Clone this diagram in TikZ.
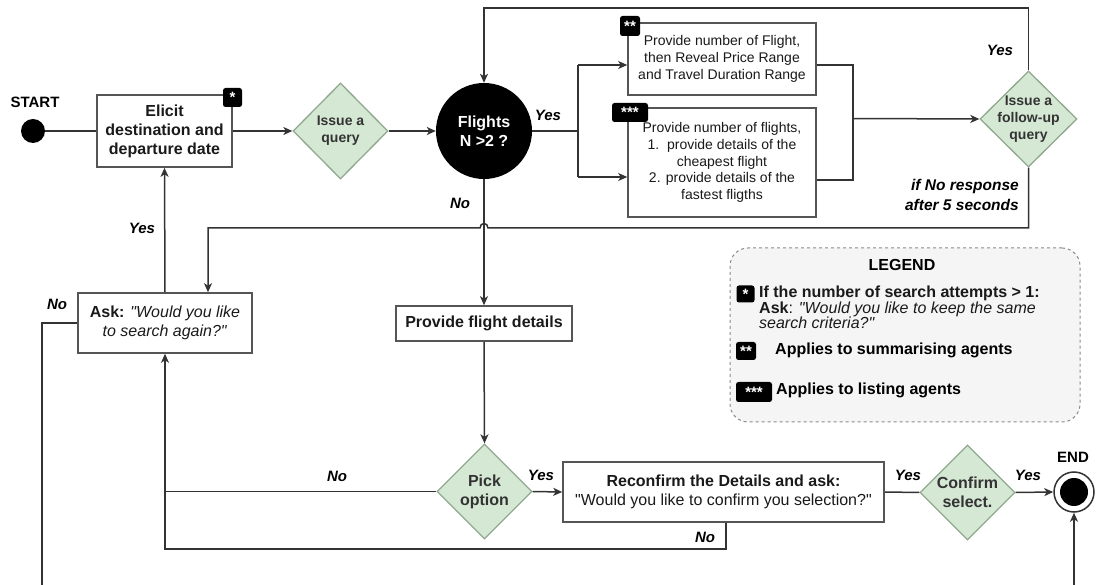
\documentclass[tikz,border=0pt]{standalone}
\usepackage{fontspec}
\setmainfont{Liberation Sans}[Ligatures=TeXOff]
\usetikzlibrary{shapes.geometric,arrows.meta}

\definecolor{linec}{HTML}{333333}
\definecolor{boxc}{HTML}{555555}
\definecolor{txt}{HTML}{1A1A1A}
\definecolor{diaf}{HTML}{D5E8D4}
\definecolor{diac}{HTML}{8FA88E}
\definecolor{diat}{HTML}{333333}
\definecolor{legf}{HTML}{F5F5F5}
\definecolor{legc}{HTML}{8A8A8A}

\newcommand{\fsbig}{\fontsize{16}{19}\selectfont}
\newcommand{\fssmall}{\fontsize{14}{16.8}\selectfont}

\tikzset{
  conn/.style={draw=linec, line width=1.5pt},
  arr/.style={conn, -{Stealth[length=9pt,width=8pt,inset=2.5pt]}},
  box/.style={rectangle, draw=boxc, line width=1.6pt, fill=white, inner sep=2pt,
              align=center, text=txt},
  dia/.style={diamond, draw=diac, fill=diaf, line width=1.3pt, inner sep=0pt},
  dtext/.style={align=center, text=diat, inner sep=0pt},
  badge/.style={rectangle, fill=black, rounded corners=2.5pt, inner sep=0pt,
                text=white, font=\fontsize{15}{15}\selectfont\bfseries},
  lbl/.style={font=\fontsize{15}{18}\selectfont\bfseries\itshape, inner sep=0pt, text=black},
}

\begin{document}
\begin{tikzpicture}[x=1pt,y=-1pt]
\useasboundingbox (0,0) rectangle (1096,585);

% ---- start and first request ----
\node[circle, fill=black, minimum size=24pt, inner sep=0pt] (start) at (33,131) {};
\node[font=\fontsize{15}{18}\selectfont\bfseries, inner sep=0pt] (startlbl) at (35,102) {START};

\node[box, minimum width=135pt, minimum height=72pt, font=\fsbig\bfseries] (elicit) at (164.5,131)
  {Elicit\\destination and\\departure date};
\node[badge, minimum width=19pt, minimum height=19pt] (b1) at (232.5,97.5) {*};

\node[dia, minimum width=95pt, minimum height=96pt] (query) at (340.5,131) {};
\node[dtext, font=\fssmall\bfseries] (querytxt) at (query) {Issue a\\query};

\node[circle, fill=black, minimum size=96pt, inner sep=0pt, text=white, align=center,
      font=\fsbig\bfseries] (flights) at (484,131) {Flights\\N >2 ?};

% ---- agent-specific answers ----
\node[box, minimum width=188pt, minimum height=72pt, font=\fssmall] (sumbox) at (722,59)
  {Provide number of Flight,\\then Reveal Price Range\\and Travel Duration Range};
\node[badge, minimum width=20pt, minimum height=20pt] (b2) at (630,26) {**};

\node[box, minimum width=188pt, minimum height=109pt, font=\fssmall] (listbox) at (722,162.5)
  {Provide number of flights,\\ 1.\ \ provide details of the\\cheapest flight\\2. provide details of the\\fastest fligths};
\node[badge, minimum width=36pt, minimum height=19pt] (b3) at (630,112.5) {***};

\node[dia, minimum width=97pt, minimum height=96pt] (follow) at (1028.5,119) {};
\node[dtext, font=\fssmall\bfseries] (followtxt) at (follow) {Issue a\\follow-up\\query};

% ---- search again / details ----
\node[box, minimum width=174pt, minimum height=60pt, font=\fsbig] (ask) at (165,323)
  {\textbf{Ask:} \textit{"Would you like}\\\textit{to search again?"}};

\node[box, minimum width=176pt, minimum height=35pt, font=\fsbig\bfseries] (details) at (484,323.5)
  {Provide flight details};

\node[dia, minimum width=95pt, minimum height=95pt] (pick) at (484.5,491.5) {};
\node[dtext, font=\fsbig\bfseries] (picktxt) at (pick) {Pick\\option};

\node[box, minimum width=321pt, minimum height=60pt, font=\fsbig] (reconf) at (723.5,492)
  {\textbf{Reconfirm the Details and ask:}\\"Would you like to confirm you selection?"};

\node[dia, minimum width=95pt, minimum height=95pt] (confirm) at (967.5,492.5) {};
\node[dtext, font=\fsbig\bfseries] (confirmtxt) at (confirm) {Confirm\\select.};

\node[circle, draw=linec, line width=1.5pt, fill=white, minimum size=40pt, inner sep=0pt] (endc) at (1074,492) {};
\node[circle, fill=black, minimum size=28pt, inner sep=0pt] (enddot) at (endc) {};
\node[font=\fontsize{15}{18}\selectfont\bfseries, inner sep=0pt] (endlbl) at (1073,457) {END};

% ---- legend ----
\node[draw=legc, dashed, line width=1pt, fill=legf, rounded corners=18pt,
      minimum width=350pt, minimum height=174pt] (legend) at (905,335) {};
\node[font=\fsbig\bfseries, inner sep=0pt] (legtitle) at (902,265) {LEGEND};
\node[badge, minimum width=18pt, minimum height=17pt] (lb1) at (745.5,294) {*};
\node[anchor=north west, align=left, inner sep=0pt, text=txt,
      font=\fontsize{16}{15.5}\selectfont] (legt1) at (759,286)
  {\textbf{If the number of search attempts > 1:}\\\textbf{Ask}: \textit{"Would you like to keep the same}\\\textit{search criteria?"}};
\node[badge, minimum width=20pt, minimum height=18pt] (lb2) at (746,351) {**};
\node[anchor=west, inner sep=0pt, font=\fsbig\bfseries] (legt2) at (775,350) {Applies to summarising agents};
\node[badge, minimum width=36pt, minimum height=20pt] (lb3) at (754,392) {***};
\node[anchor=west, inner sep=0pt, font=\fsbig\bfseries] (legt3) at (776,390) {Applies to listing agents};

% ---- routing points ----
\coordinate (splitA) at (578,65);
\coordinate (splitB) at (578,177);
\coordinate (mergeA) at (853,65);
\coordinate (mergeB) at (853,180);
\coordinate (mergeM) at (853,118.5);
\coordinate (topY) at (1028.5,8);
\coordinate (loopR) at (1028.5,228);
\coordinate (hopR) at (488,228);
\coordinate (hopL) at (480,228);
\coordinate (loopL) at (208,228);
\coordinate (noX) at (42,323);
\coordinate (noLow) at (42,592);
\coordinate (endLow) at (1074,592);
\coordinate (retX) at (726,549);
\coordinate (retL) at (165,549);
\coordinate (retJ) at (165,491.5);

% ---- connectors ----
\draw[conn] (start) -- (elicit);
\draw[arr] (elicit) -- (query);
\draw[arr] (query) -- (flights);

\draw[conn] (flights.east) -- (splitA |- flights.east);
\draw[conn] (splitA) -- (splitB);
\draw[arr] (splitA) -- (splitA -| sumbox.west);
\draw[arr] (splitB) -- (splitB -| listbox.west);
\draw[conn] (mergeA -| sumbox.east) -- (mergeA) -- (mergeB) -- (mergeB -| listbox.east);
\draw[arr] (mergeM) -- (follow.west);

\draw[arr] (follow.north) -- (topY) -| (flights.north);
\draw[arr] (follow.south) -- (loopR) -- (hopR)
  .. controls (488,222) and (480,222) .. (hopL) -- (loopL) -- (ask.north -| loopL);

\draw[arr] (ask.north) -- (elicit.south);
\draw[arr] (flights.south) -- (details.north);
\draw[arr] (details.south) -- (pick.north);
\draw[arr] (pick.west) -| (ask.south);
\draw[arr] (pick.east) -- (reconf.west);
\draw[conn] (reconf.south -| retX) -- (retX) -- (retL) -- (retJ);
\draw[conn] (reconf.east) -- (confirm.west);
\draw[arr] (confirm.east) -- (endc.west);
\draw[arr] (ask.west) -- (noX) -- (noLow) -- (endLow) -- (endc.south);

% ---- branch labels ----
\node[lbl] (y1) at (548,115) {Yes};
\node[lbl] (n1) at (460,203) {No};
\node[lbl] (y2) at (1000,50) {Yes};
\node[lbl, align=right, anchor=east, font=\fontsize{15.5}{20}\selectfont\bfseries\itshape] (late) at (1019,195)
  {if No response\\after 5 seconds};
\node[lbl] (y3) at (142,228) {Yes};
\node[lbl] (n2) at (57,304) {No};
\node[lbl] (n3) at (337,476) {No};
\node[lbl] (y4) at (541,475) {Yes};
\node[lbl] (n4) at (705,537) {No};
\node[lbl] (y5) at (908,475) {Yes};
\node[lbl] (y6) at (1028,475) {Yes};
\end{tikzpicture}
\end{document}
